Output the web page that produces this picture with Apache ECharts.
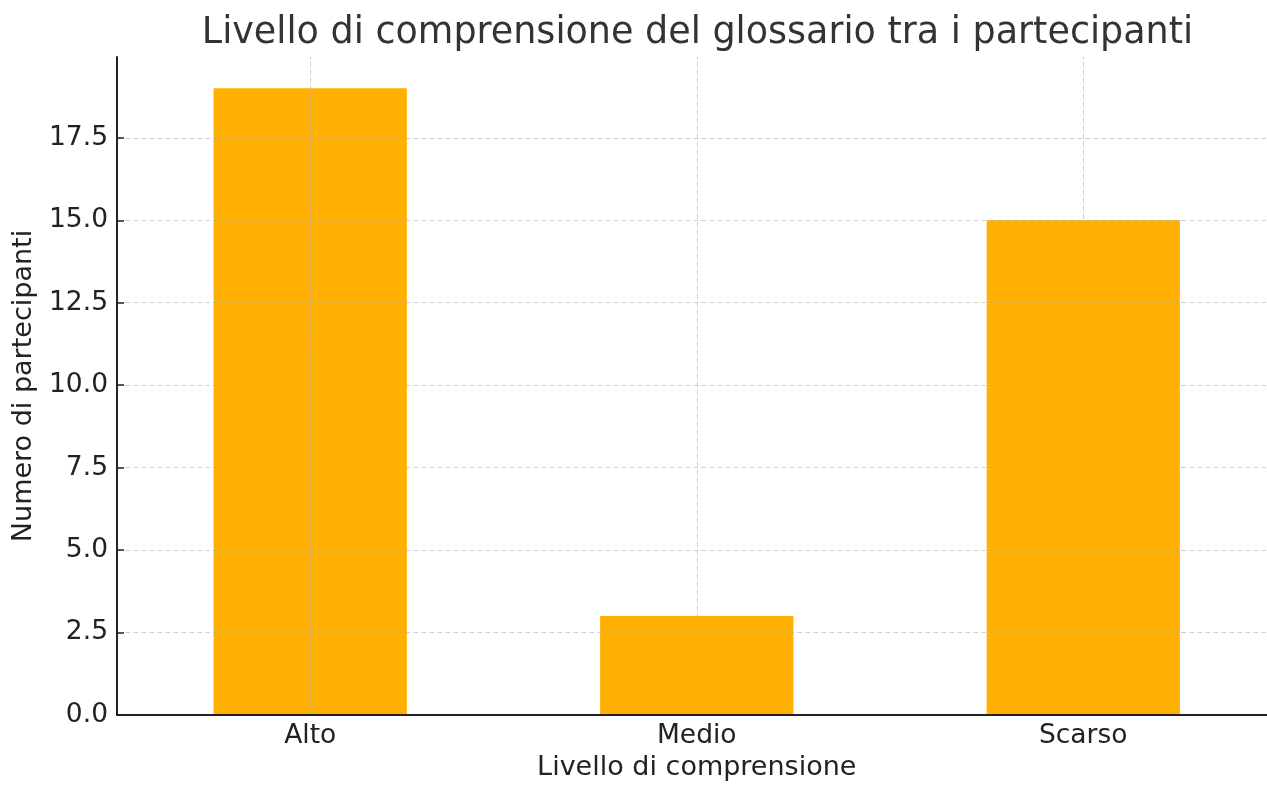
<!DOCTYPE html>
<html>
<head>
<meta charset="utf-8">
<script src="https://cdn.jsdelivr.net/npm/echarts@6/dist/echarts.min.js"></script>
<style>
  html, body { margin: 0; padding: 0; background: #fff; }
  #chart { width: 1267px; height: 785px; }
</style>
</head>
<body>
<div id="chart"></div>
<script>
var categories = ["Alto", "Medio", "Scarso"];
var participants = [19, 3, 15];
var yTickStep = 2.5;
var yMax = 19.95;

var font = "DejaVu Sans";
var gridColor = "rgba(170,170,170,0.55)";

var chart = echarts.init(document.getElementById("chart"));

var option = {
  animation: false,
  title: {
    text: "Livello di comprensione del glossario tra i partecipanti",
    left: 692.5,
    top: 10,
    textAlign: "center",
    textStyle: { fontFamily: font, fontSize: 36.5, fontWeight: "normal", color: "#333" },
  },
  // plot area runs a little past the right edge of the picture
  grid: { left: 117, width: 1159.5, top: 57, bottom: 70, outerBoundsMode: "none" },
  xAxis: {
    type: "category",
    data: categories,
    name: "Livello di comprensione",
    nameLocation: "middle",
    nameGap: 38,
    nameTextStyle: { fontFamily: font, fontSize: 27, color: "#222" },
    axisLine: { lineStyle: { color: "#222", width: 2 } },
    axisTick: { alignWithLabel: true, inside: true, length: 7, lineStyle: { color: "#222", width: 1.5 } },
    axisLabel: { fontFamily: font, fontSize: 26.5, color: "#222", margin: 8 },
    splitLine: { show: false },
    z: 5,
  },
  yAxis: {
    type: "value",
    min: 0,
    max: yMax,
    interval: yTickStep,
    name: "Numero di partecipanti",
    nameLocation: "middle",
    nameGap: 80,
    nameTextStyle: { fontFamily: font, fontSize: 27, color: "#222" },
    axisLine: { show: true, lineStyle: { color: "#222", width: 2 } },
    axisTick: { show: true, inside: true, length: 7, lineStyle: { color: "#222", width: 1.5 } },
    axisLabel: {
      fontFamily: font, fontSize: 26.5, color: "#222", margin: 9,
      showMaxLabel: false,
      formatter: function (v) { return v.toFixed(1); },
    },
    splitLine: { show: true, showMaxLine: false, lineStyle: { color: gridColor, type: [5, 3], width: 1 } },
    z: 5,
  },
  series: [
    {
      type: "bar",
      data: participants,
      barWidth: "50%",
      itemStyle: { color: "#FFB000" },
      markLine: {
        silent: true,
        symbol: "none",
        label: { show: false },
        lineStyle: { color: gridColor, type: [5, 3], width: 1 },
        data: categories.map(function (c) { return { xAxis: c }; }),
      },
    },
  ],
};

chart.setOption(option);
</script>
</body>
</html>
